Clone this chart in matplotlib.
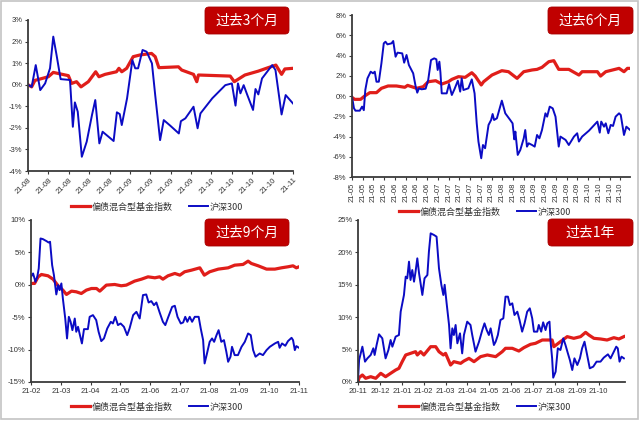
import numpy as np
import matplotlib
matplotlib.use("Agg")
import matplotlib.pyplot as plt
from matplotlib.patches import FancyBboxPatch, Rectangle

plt.rcParams['font.family'] = ['Noto Sans CJK SC', 'DejaVu Sans']

RED = '#E01E1A'
BLUE = '#0B0BC4'
BOX = '#C00000'
names = ['偏债混合型基金指数', '沪深300']

# ---------------- 过去3个月 (x: trading day index) ----------------
p1_xlabels = ['21-08'] * 5 + ['21-09'] * 4 + ['21-10'] * 4 + ['21-11']
p1_yticks = [-4, -3, -2, -1, 0, 1, 2, 3]
p1_blue_t = [0, 0.9, 1.9, 3, 4.2, 5.4, 6.2, 7, 8, 10.3, 11, 11.5, 12.2, 13.2, 14.4,
             15.7, 16.5, 17.5, 18.3, 21, 21.8, 22.5, 23, 24.3, 25.6, 26.3, 27, 28.1,
             29.1, 30.4, 31.2, 32.4, 33.3, 34.9, 37, 37.5, 38.6, 40.6, 41.6, 42.3,
             45.2, 48.4, 50, 50.9, 51.5, 52.1, 52.9, 53.8, 55.2, 55.8, 56.5, 57.4,
             59.9, 60.7, 62.2, 63.2, 65]
p1_blue = [0, -0.1, 0.91, -0.25, 0.06, 0.76, 2.23, 1.38, 0.26, 0.22, -1.95, -0.82,
           -1.25, -3.34, -2.64, -1.4, -0.71, -2.72, -2.18, -2.61, -1.28, -1.36, -1.87,
           -0.63, 1.14, 0.76, 0.76, 1.61, 1.53, 0.99, -0.48, -2.57, -1.64, -1.9, -2.26,
           -1.69, -1.56, -1.02, -2.02, -1.33, -0.63, -0.02, 0.06, -0.97, 0.06, -0.4,
           -0.02, -0.48, -1.17, -0.2, -0.45, 0.29, 0.91, 0.68, -1.38, -0.48, -0.87]
p1_red_t = [0, 0.9, 1.7, 5.0, 6.2, 9.9, 10.7, 11.9, 13.0, 14.8, 16.6, 17.4, 18.9, 21.7,
            22.3, 23.0, 24.2, 25.8, 27.5, 30.3, 31.2, 32.1, 36.9, 37.7, 40.6, 41.4,
            41.8, 49.6, 50.6, 53.2, 56.5, 58.9, 60.8, 62.2, 63.0, 65]
p1_red = [0, -0.1, 0.2, 0.37, 0.57, 0.42, 0.06, 0.14, -0.1, 0.14, 0.6, 0.37, 0.48,
          0.6, 0.76, 0.6, 0.76, 1.3, 1.38, 1.45, 1.3, 0.79, 0.83, 0.68, 0.48, 0.14,
          0.45, 0.4, 0.14, 0.45, 0.63, 0.79, 0.91, 0.48, 0.73, 0.76]

# ---------------- 过去6个月 ----------------
p2_xlabels = (['21-05'] * 4 + ['21-06'] * 4 + ['21-07'] * 5 + ['21-08'] * 4
              + ['21-09'] * 5 + ['21-10'] * 4)
p2_yticks = [-8, -6, -4, -2, 0, 2, 4, 6, 8]
p2_blue_t = [0, 0.9, 1.6, 3.6, 4.7, 5.5, 6.2, 7.2, 8.7, 9.8, 10.6, 11.4, 12.5, 13.7,
             14.8, 15.6, 16.5, 18.4, 19.2, 20.3, 21.2, 23.4, 24.3, 25.4, 26.5, 28.5,
             29.6, 30.4, 31.2, 32.4, 34.3, 35.5, 36.8, 38.3, 39.3, 39.9, 40.7, 41.2,
             41.8, 44.1, 45.2, 46.5, 47.7, 49.3, 50.4, 51.1, 51.9, 54.2, 55.8, 57.1,
             58.1, 58.9, 60.2, 61.0, 62.0, 63.6, 64.8, 65.5, 66.2, 67.5, 69.8, 71.4,
             73.7, 74.8, 75.6, 76.1, 77.2, 78.4, 80.0, 80.7, 81.5, 82.3, 83.9, 85.1,
             86.2, 87.3, 88.5, 90.1, 90.9, 92.1, 93.5, 94.8, 96.3, 97.1, 99.5, 101.0,
             103.4, 104.9, 105.7, 107.2, 110.4, 114.3, 115.4, 116.1, 117.4, 118.2,
             119.4, 120.5, 121.6, 122.8, 124.4, 125.2, 126.7, 127.8, 129.9]
p2_blue = [-0.07, -1.2, -1.45, -1.45, -1.05, -1.4, 0.6, 1.74, 2.4, 2.24,
           2.4, 1.41, 1.41, 3.22, 5.2, 5.36, 5.1, 5.2, 5.43, 3.88,
           4.28, 4.21, 3.29, 4.05, 3.06, 2.24, 0.99, 0.33, 0.76, 0.66,
           0.72, 1.58, 3.55, 3.72, 3.62, 2.57, 3.39, 2.3, 0.26, 0.26,
           1.18, 0.1, 0.66, 1.51, 0.43, 1.74, 0.59, 0.76, 1.64, 0.26,
           -2.7, -4.5, -6.15, -4.84, -5.16, -2.86, -2.37, -1.78, -2.37, -2.2,
           -0.46, -1.71, -2.37, -2.7, -4.28, -3.52, -5.82, -5.33, -4.18, -3.36,
           -5.0, -4.67, -4.84, -5.0, -3.85, -4.18, -3.36, -1.71, -2.04, -1.05,
           -1.22, -2.04, -5.0, -4.01, -4.34, -4.84, -4.01, -3.68, -4.5, -4.01,
           -3.42, -2.53, -3.62, -2.53, -3.03, -2.7, -3.68, -2.86, -2.96, -2.04,
           -1.71, -1.88, -3.85, -3.03, -3.42]
p2_red_t = [0, 1.2, 4, 5.9, 8.3, 11.4, 13.7, 16.8, 20.7, 24.6, 25.9, 30.1, 33.2, 35.5,
            39, 41.8, 44.9, 46.5, 49.6, 52.7, 55.8, 57.4, 60.2, 61.3, 65.2, 69.8, 72.9,
            76.9, 80, 83.9, 86.2, 88.5, 91.7, 94, 96.3, 101, 105.7, 107.2, 114.3,
            115.8, 118.2, 124.4, 126.7, 128.3, 129.9]
p2_red = [-0.13, -0.33, -0.33, 0, 0.33, 0.33, 0.76, 0.99, 0.99, 0.86, 1.05, 0.76,
          0.92, 1.41, 1.51, 1.18, 1.41, 1.64, 1.91, 1.84, 2.3, 1.97, 1.09, 1.41, 2.07,
          2.5, 2.4, 1.74, 2.4, 2.57, 2.63, 2.83, 3.39, 3.49, 2.63, 2.63, 2.07, 2.4,
          2.4, 1.97, 2.4, 2.73, 2.4, 2.73, 2.73]

# ---------------- 过去9个月 (x: months since 21-02) ----------------
p3_xlabels = ['21-02', '21-03', '21-04', '21-05', '21-06', '21-07', '21-08', '21-09',
              '21-10', '21-11']
p3_yticks = [-15, -10, -5, 0, 5, 10]
p3_blue_t = [0, 0.07, 0.15, 0.21, 0.26, 0.32, 0.40, 0.52, 0.59, 0.64,
             0.71, 0.77, 0.85, 0.91, 0.96, 1.02, 1.07, 1.15, 1.21, 1.27,
             1.33, 1.39, 1.47, 1.52, 1.58, 1.63, 1.71, 1.78, 1.91, 1.97,
             2.08, 2.19, 2.27, 2.36, 2.45, 2.56, 2.68, 2.75, 2.83, 2.92,
             3.01, 3.12, 3.23, 3.31, 3.43, 3.54, 3.65, 3.76, 3.87, 3.95,
             4.04, 4.13, 4.21, 4.32, 4.43, 4.51, 4.60, 4.74, 4.83, 4.92,
             5.03, 5.11, 5.18, 5.25, 5.33, 5.41, 5.50, 5.63, 5.70, 5.78,
             5.83, 5.91, 6.0, 6.08, 6.15, 6.23, 6.30, 6.39, 6.48, 6.56,
             6.62, 6.70, 6.75, 6.84, 6.95, 7.07, 7.18, 7.29, 7.38, 7.46,
             7.54, 7.68, 7.79, 7.91, 8.02, 8.19, 8.30, 8.35, 8.43, 8.54,
             8.63, 8.75, 8.80, 8.86, 8.91, 9.0]
p3_blue = [1.23, 1.75, 0.46, 1.23, 2.52, 7.15, 7.05, 6.74, 6.53, 6.64,
           3.03, 1.49, -1.49, -0.05, -0.82, 0.21, -2.11, -5.2, -8.28, -4.94,
           -5.71, -7.0, -5.2, -7.25, -6.48, -7.5, -9.05, -6.84, -6.84, -4.94,
           -4.68, -5.45, -7.25, -8.69, -8.28, -6.74, -5.71, -5.97, -4.94, -6.22,
           -5.97, -6.48, -7.77, -6.74, -4.68, -4.17, -5.2, -1.59, -1.49, -2.73,
           -2.52, -3.14, -2.73, -4.27, -5.71, -6.22, -5.09, -3.4, -3.24, -4.94,
           -5.97, -5.81, -4.94, -5.71, -4.94, -5.71, -4.94, -4.94, -6.74, -8.54,
           -12.14, -10.6, -8.8, -8.28, -8.8, -7.77, -7.0, -8.8, -8.54, -10.34,
           -11.88, -11.1, -9.57, -10.85, -10.85, -9.57, -8.8, -7.51, -7.77, -10.08,
           -11.1, -10.6, -10.85, -10.08, -9.57, -9.05, -8.8, -9.72, -9.05, -9.41,
           -8.69, -8.18, -8.54, -10.08, -9.46, -9.72]
p3_red_t = [0, 0.12, 0.24, 0.35, 0.57, 0.74, 0.91, 1.07, 1.19, 1.36,
            1.52, 1.69, 1.86, 2.03, 2.20, 2.31, 2.53, 2.81, 3.03, 3.20,
            3.48, 3.71, 3.93, 4.16, 4.32, 4.43, 4.60, 4.83, 5.0, 5.16,
            5.39, 5.67, 5.82, 6.0, 6.29, 6.62, 6.84, 7.12, 7.29, 7.40,
            7.63, 7.91, 8.19, 8.41, 8.63, 8.80, 8.91, 9.0]
p3_red = [0.21, 0.21, 1.23, 1.59, 1.39, 0.87, -0.15, -0.82, -1.49, -0.98,
          -1.08, -1.34, -0.82, -0.57, -0.57, -0.98, -0.05, 0.05, -0.15, -0.05,
          0.57, 0.87, 1.23, 1.08, 1.23, 0.87, 1.39, 1.75, 1.49, 2.01,
          2.26, 2.62, 1.49, 2.01, 2.42, 2.62, 3.03, 3.14, 3.65, 3.29,
          2.93, 2.42, 2.42, 2.62, 2.78, 2.93, 2.62, 2.78]

# ---------------- 过去1年 (x: months since 20-11) ----------------
p4_xlabels = ['20-11', '20-12', '21-01', '21-02', '21-03', '21-04', '21-05', '21-06',
              '21-07', '21-08', '21-09', '21-10']
p4_yticks = [0, 5, 10, 15, 20, 25]
p4_blue_t = [0, 0.05, 0.2, 0.32, 0.43, 0.58, 0.70, 0.76, 0.85, 0.96,
             1.11, 1.26, 1.39, 1.49, 1.57, 1.72, 1.87, 1.95, 2.1, 2.18,
             2.25, 2.33, 2.40, 2.48, 2.56, 2.63, 2.71, 2.79, 2.94, 3.04,
             3.17, 3.24, 3.32, 3.47, 3.59, 3.70, 3.81, 3.90, 3.96, 4.05,
             4.16, 4.23, 4.31, 4.38, 4.46, 4.54, 4.66, 4.76, 4.84, 4.99,
             5.14, 5.22, 5.37, 5.53, 5.68, 5.78, 5.88, 5.98, 6.06, 6.21,
             6.29, 6.39, 6.51, 6.64, 6.74, 6.85, 6.94, 7.05, 7.15, 7.28,
             7.38, 7.50, 7.61, 7.73, 7.85, 7.96, 8.04, 8.19, 8.26, 8.37,
             8.46, 8.57, 8.65, 8.75, 8.80, 8.87, 8.92, 9.03, 9.13, 9.25,
             9.38, 9.48, 9.59, 9.68, 9.79, 9.89, 10.02, 10.14, 10.24, 10.35,
             10.47, 10.59, 10.75, 10.9, 11.08, 11.23, 11.42, 11.54, 11.69, 11.8,
             11.87, 11.95, 12.04, 12.15]
p4_blue = [0.3, 3.4, 5.45, 3.14, 3.65, 4.17, 5.2, 4.17, 5.71, 7.36,
           6.74, 3.65, 4.94, 6.48, 5.45, 7.0, 7.25, 10.85, 13.43, 16.26,
           16.0, 18.57, 15.74, 17.28, 15.48, 17.03, 19.08, 16.77, 13.43, 16.0,
           16.51, 20.11, 22.94, 22.69, 22.43, 17.54, 14.97, 13.43, 15.0, 12.14,
           8.8, 5.2, 8.28, 7.25, 8.8, 5.97, 7.51, 4.42, 7.25, 9.31,
           8.8, 7.25, 4.68, 6.22, 8.02, 9.05, 8.02, 7.25, 8.28, 5.71,
           6.22, 7.25, 9.57, 9.82, 13.17, 13.17, 11.88, 12.14, 10.34, 10.85,
           9.57, 7.77, 9.05, 10.85, 11.37, 9.82, 7.77, 7.77, 8.8, 7.77,
           9.21, 8.02, 9.05, 9.31, 6.22, 3.65, 0.67, 1.59, 5.2, 4.94,
           6.74, 5.71, 4.42, 3.4, 1.85, 3.65, 2.62, 3.65, 5.2, 6.22,
           4.17, 2.11, 2.37, 3.14, 3.14, 3.76, 4.27, 3.65, 4.68, 5.45,
           5.2, 3.14, 3.91, 3.65]
p4_red_t = [0, 0.05, 0.2, 0.35, 0.58, 0.81, 1.04, 1.26, 1.49, 1.72,
            1.87, 2.02, 2.18, 2.4, 2.63, 2.71, 2.86, 3.01, 3.32, 3.55,
            3.70, 3.90, 4.0, 4.23, 4.38, 4.69, 4.84, 5.07, 5.30, 5.60,
            5.91, 6.29, 6.59, 6.74, 7.05, 7.35, 7.58, 7.88, 8.11, 8.42,
            8.65, 8.87, 8.95, 9.25, 9.56, 9.86, 10.17, 10.40, 10.55, 10.78,
            11.08, 11.38, 11.69, 11.92, 12.15]
p4_red = [0.05, 0.67, 1.08, 0.57, 0.82, 0.57, 1.34, 0.82, 1.34, 1.85,
          2.11, 3.14, 4.17, 4.42, 4.68, 4.17, 4.68, 4.17, 5.45, 5.45,
          4.68, 4.17, 4.42, 2.62, 3.14, 2.88, 3.24, 3.65, 3.14, 3.91,
          4.17, 3.91, 4.68, 5.2, 5.2, 4.78, 5.3, 5.81, 5.97, 6.48,
          6.48, 6.48, 5.45, 6.22, 7.0, 6.74, 7.0, 7.66, 7.25, 6.74,
          6.64, 6.48, 6.84, 6.64, 7.0]

W, H = 640, 421
fig = plt.figure(figsize=(W / 100, H / 100), dpi=100)
fig.patch.set_facecolor('white')


def px_axes(l, r, t, b):
    return fig.add_axes([l / W, 1 - b / H, (r - l) / W, (b - t) / H])


def style(ax, xticks, xlabels, xlim, yticks, ylim, rot):
    ax.set_xlim(*xlim)
    ax.set_ylim(*ylim)
    ax.set_yticks(yticks)
    ax.set_yticklabels([f'{v}%' for v in yticks], fontsize=5.5, color='#333333')
    ax.set_xticks(xticks)
    if rot == 45:
        ax.set_xticklabels(xlabels, fontsize=5.5, rotation=45, ha='right',
                           rotation_mode='anchor', color='#333333')
    elif rot == 90:
        ax.set_xticklabels(xlabels, fontsize=5.5, rotation=90, color='#333333')
    else:
        ax.set_xticklabels(xlabels, fontsize=5.5, color='#333333')
    for s in ['top', 'right']:
        ax.spines[s].set_visible(False)
    for s in ['left', 'bottom']:
        ax.spines[s].set_linewidth(1.3)
        ax.spines[s].set_color('#3a3a3a')
    ax.tick_params(length=2.5, width=0.8, pad=1.5, color='#3a3a3a')
    for lab in ax.get_xticklabels() + ax.get_yticklabels():
        lab.set_family(['Liberation Sans', 'DejaVu Sans'])


def draw(ax, rt, rv, bt, bv, leg_xy):
    ax.plot(rt, rv, color=RED, lw=2.3, label=names[0], solid_joinstyle='round')
    ax.plot(bt, bv, color=BLUE, lw=1.4, label=names[1], solid_joinstyle='round')
    leg = ax.legend(loc='center', bbox_to_anchor=(leg_xy[0] / W, 1 - leg_xy[1] / H),
                    bbox_transform=fig.transFigure, ncol=2, frameon=False,
                    fontsize=6.5, handlelength=2.1, handletextpad=0.2,
                    columnspacing=1.8)
    for txt in leg.get_texts():
        txt.set_color('#333333')


def title_box(x0, y0, x1, y1, text):
    box = FancyBboxPatch((x0 / 100, (H - y1) / 100), (x1 - x0) / 100, (y1 - y0) / 100,
                         boxstyle='round,pad=0,rounding_size=0.04',
                         transform=fig.dpi_scale_trans, facecolor=BOX,
                         edgecolor='#A80000', lw=0.6)
    fig.add_artist(box)
    fig.text((x0 + x1) / 2 / W, 1 - (y0 + y1) / 2 / H, text, color='white',
             fontsize=10, ha='center', va='center')


# panel 1
ax1 = px_axes(28, 293, 20, 171)
draw(ax1, p1_red_t, p1_red, p1_blue_t, p1_blue, (157, 207))
style(ax1, np.arange(0, 66, 5), p1_xlabels, (0, 65), p1_yticks, (-4, 3), 45)

# panel 2
ax2 = px_axes(352, 630, 15, 177)
draw(ax2, p2_red_t, p2_red, p2_blue_t, p2_blue, (485, 212))
style(ax2, np.arange(0, 126, 5), p2_xlabels, (0, 129.5), p2_yticks, (-8, 8), 90)

# panel 3
ax3 = px_axes(31, 299, 220, 382)
draw(ax3, p3_red_t, p3_red, p3_blue_t, p3_blue, (157, 407))
style(ax3, np.arange(0, 10), p3_xlabels, (0, 9), p3_yticks, (-15, 10), 0)

# panel 4
ax4 = px_axes(358, 625, 220, 382)
draw(ax4, p4_red_t, p4_red, p4_blue_t, p4_blue, (485, 407))
style(ax4, np.arange(0, 12), p4_xlabels, (0, 12.2), p4_yticks, (0, 25), 0)

title_box(205, 7, 289, 34, '过去3个月')
title_box(548, 7, 633, 34, '过去6个月')
title_box(205, 219, 289, 246, '过去9个月')
title_box(548, 219, 633, 246, '过去1年')

# light frame round the whole picture
fig.add_artist(Rectangle((0.002, 0.004), 0.995, 0.993, transform=fig.transFigure,
                         fill=False, edgecolor='#C4C4C4', lw=1.2))

fig.savefig('out.png', dpi=100)
